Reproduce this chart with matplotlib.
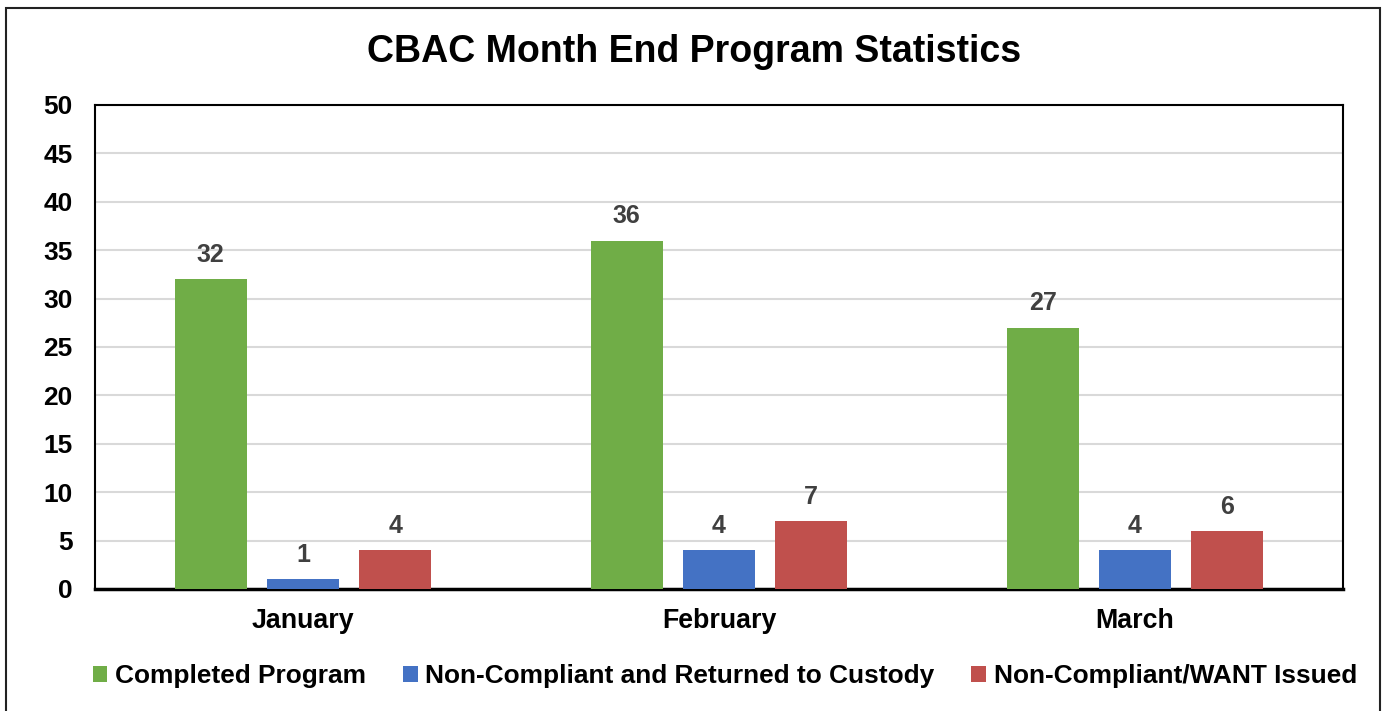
import matplotlib
matplotlib.use("Agg")
import matplotlib.pyplot as plt
from matplotlib.patches import Rectangle
import numpy as np

plt.rcParams['font.family'] = ['Liberation Sans', 'DejaVu Sans']

months = ["January", "February", "March"]
series_names = ["Completed Program", "Non-Compliant and Returned to Custody", "Non-Compliant/WANT Issued"]
completed = [32, 36, 27]
returned = [1, 4, 4]
want = [4, 7, 6]
colors = ["#70ad47", "#4472c4", "#c0504d"]
yticks = [0, 5, 10, 15, 20, 25, 30, 35, 40, 45, 50]

fig = plt.figure(figsize=(13.84, 7.11), dpi=100)
ax = fig.add_axes([95/1384, 1-589/711, (1343-95)/1384, (589-105)/711])

x = np.arange(len(months))
width = 0.173
offset = 0.222
for i, (vals, name, c) in enumerate(zip([completed, returned, want], series_names, colors)):
    bars = ax.bar(x + (i-1)*offset, vals, width, color=c, label=name, zorder=3)
    for b, v in zip(bars, vals):
        ax.annotate(str(v), (b.get_x()+b.get_width()/2, v), xytext=(0, 12.5),
                    textcoords='offset points', ha='center', va='baseline',
                    fontsize=18, fontweight='bold', color='#404040', zorder=4)

ax.set_xlim(-0.5, 2.5)
ax.set_ylim(0, 50)
ax.set_yticks(yticks)
ax.set_yticklabels([str(t) for t in yticks], fontsize=19, fontweight='bold')
ax.set_xticks(x)
ax.set_xticklabels(months, fontsize=19.3, fontweight='bold')
ax.tick_params(axis='y', length=0, pad=16)
ax.tick_params(axis='x', length=0, pad=14)
ax.yaxis.grid(True, color='#d9d9d9', linewidth=1.5, zorder=0)
ax.set_axisbelow(True)
for s in ax.spines.values():
    s.set_color('black')
    s.set_linewidth(1.5)
ax.spines['bottom'].set_linewidth(2.5)

fig.text(694/1384, 1-52/711, "CBAC Month End Program Statistics", ha='center', va='center',
         fontsize=27, fontweight='bold')

leg = fig.legend(loc='center', bbox_to_anchor=(725/1384, 1-676/711), ncol=3, frameon=False,
                 prop={'size': 18.9, 'weight': 'bold'}, handlelength=0.55, handleheight=0.55,
                 handletextpad=0.3, columnspacing=1.4)

fig.patches.append(Rectangle((6/1384, -0.05), (1380-6)/1384, 1.05-8/711, transform=fig.transFigure,
                             fill=False, edgecolor='#222222', linewidth=1.5))

fig.savefig("out.png", dpi=100)
